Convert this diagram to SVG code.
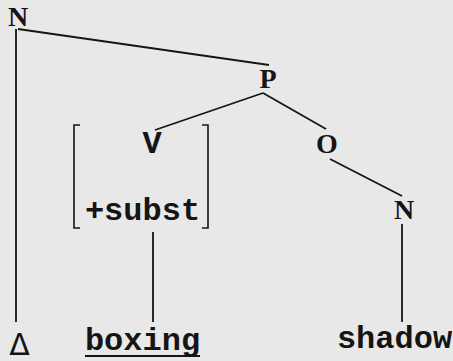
<svg xmlns="http://www.w3.org/2000/svg" width="453" height="361" viewBox="0 0 453 361">
<style>
.cat{font-family:"Liberation Serif",serif;font-weight:bold;font-size:28px;fill:#151515;text-anchor:middle}
.tw{font-family:"Liberation Mono",monospace;font-weight:bold;font-size:32px;fill:#151515}
.ln{stroke:#151515;stroke-width:1.8;fill:none}
.br{stroke:#151515;stroke-width:1.6;fill:none}
</style>
<rect x="0" y="0" width="453" height="361" fill="#e8e8e8"/>
<g id="connectors">
<line class="ln" x1="18" y1="29" x2="269" y2="65"/>
<line class="ln" x1="16" y1="29" x2="16" y2="322"/>
<line class="ln" x1="263" y1="93" x2="155" y2="130"/>
<line class="ln" x1="263" y1="93" x2="326" y2="129"/>
<line class="ln" x1="330" y1="159" x2="402" y2="196"/>
<line class="ln" x1="402" y1="224" x2="402" y2="322"/>
<line class="ln" x1="153" y1="232" x2="153" y2="322"/>
</g>
<g id="node-N-top"><text class="cat" x="18" y="26">N</text></g>
<g id="node-P"><text class="cat" x="268" y="88">P</text></g>
<g id="node-O"><text class="cat" x="327" y="153">O</text></g>
<g id="node-N-obj"><text class="cat" x="404" y="219">N</text></g>
<g id="node-V">
<path class="br" d="M80,125 H74 V228 H80"/>
<path class="br" d="M202,125 H208 V228 H202"/>
<text class="tw" x="152" y="153" text-anchor="middle">V</text>
<text class="tw" x="142.5" y="220" text-anchor="middle">+subst</text>
</g>
<g id="node-delta"><text x="19.5" y="355" font-family="DejaVu Sans,sans-serif" font-size="30" fill="#151515" text-anchor="middle">Δ</text></g>
<g id="node-boxing">
<text class="tw" x="142.5" y="350" text-anchor="middle">boxing</text>
<line class="ln" x1="85" y1="356" x2="200" y2="356"/>
</g>
<g id="node-shadow"><text class="tw" x="394.5" y="348" text-anchor="middle">shadow</text></g>
</svg>
